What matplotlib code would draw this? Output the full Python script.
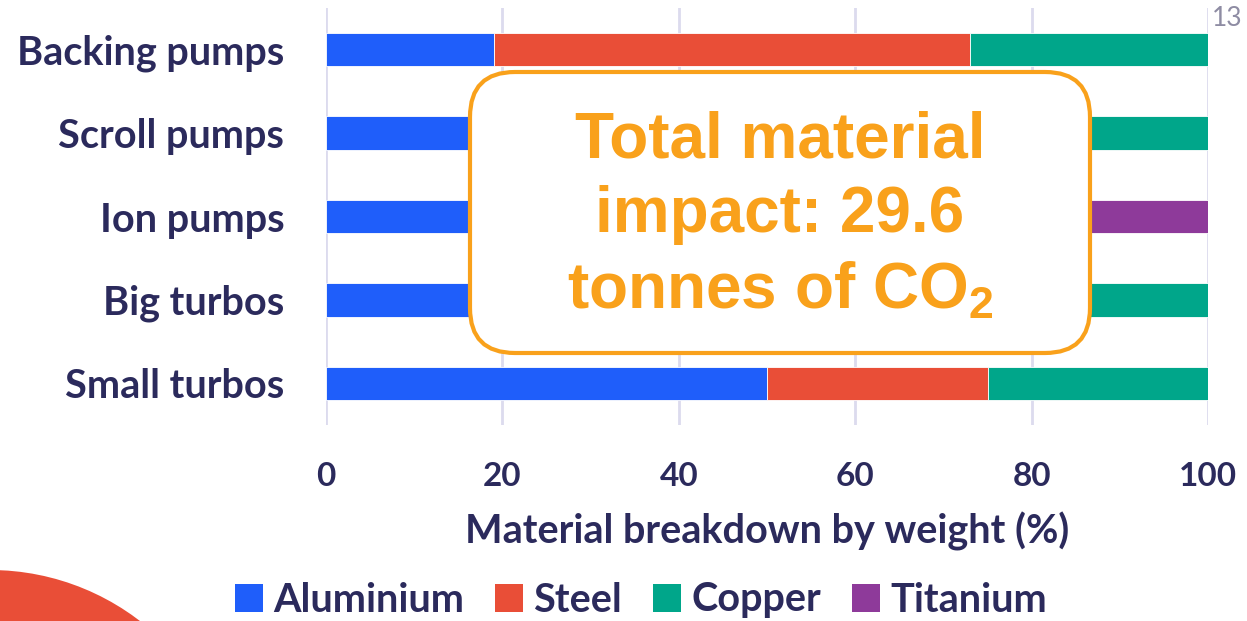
import numpy as np
import matplotlib
matplotlib.use('Agg')
import matplotlib.pyplot as plt
from matplotlib.patches import Patch, Ellipse, FancyBboxPatch
from matplotlib.transforms import IdentityTransform

plt.rcParams['mathtext.default'] = 'regular'

# material shares per pump type (% by weight), top row first
pumps = ["Backing pumps", "Scroll pumps", "Ion pumps", "Big turbos", "Small turbos"]
aluminium = [19, 45, 20, 55, 50]
steel = [54, 30, 60, 25, 25]
copper = [27, 25, 0, 20, 25]
titanium = [0, 0, 20, 0, 0]

materials = ["Aluminium", "Steel", "Copper", "Titanium"]
colours = ["#1F5EFA", "#E94E37", "#00A68A", "#8E3A9A"]
xticks = [0, 20, 40, 60, 80, 100]

navy = "#2B2A5C"
orange = "#F9A11B"
ui_font = "Lato"

W, H = 1247, 621
fig = plt.figure(figsize=(W / 100, H / 100), dpi=100)
ax = fig.add_axes([326 / W, 1 - 425 / H, 882 / W, 417 / H])

y = np.arange(len(pumps))
left = np.zeros(len(pumps))
for vals, col in zip([aluminium, steel, copper, titanium], colours):
    vals = np.array(vals, dtype=float)
    ax.barh(y, vals, left=left, height=0.4, color=col, edgecolor="white",
            linewidth=0.6, zorder=3)
    left += vals

ax.set_xlim(0, 100)
ax.set_ylim(len(pumps) - 0.5, -0.5)
ax.set_xticks(xticks)
ax.set_yticks(y)
ax.set_yticklabels(pumps)
ax.grid(axis="x", color="#DCDBEE", linewidth=2, zorder=0)
ax.tick_params(length=0)
ax.tick_params(axis="y", pad=30)
ax.tick_params(axis="x", pad=27)
for lab in ax.get_yticklabels():
    lab.set_fontfamily(ui_font); lab.set_fontweight("bold")
    lab.set_fontsize(28.5); lab.set_color(navy)
for lab in ax.get_xticklabels():
    lab.set_fontfamily(ui_font); lab.set_fontweight("bold")
    lab.set_fontsize(24); lab.set_color(navy)
for s in ax.spines.values():
    s.set_visible(False)

ax.set_xlabel("Material breakdown by weight (%)", fontfamily=ui_font,
              fontweight="bold", fontsize=28.5, color=navy, labelpad=15)

handles = [Patch(facecolor=c, edgecolor="none") for c in colours]
fig.legend(handles, materials, loc="center", bbox_to_anchor=(641 / W, 1 - 600 / H),
           ncol=4, frameon=False, handlelength=0.7, handleheight=0.7,
           handletextpad=0.25, columnspacing=0.8,
           prop={"family": ui_font, "weight": "bold", "size": 28.5},
           labelcolor=navy)

# callout box over the middle of the bars
box = FancyBboxPatch((470, H - 353), 620, 281,
                     boxstyle="round,pad=0,rounding_size=45",
                     transform=IdentityTransform(), facecolor="white",
                     edgecolor=orange, linewidth=3, zorder=5)
fig.patches.append(box)
fig.text(780 / W, 1 - 216 / H, "Total material\nimpact: 29.6\ntonnes of CO$_2$",
         ha="center", va="center", ma="center", color=orange,
         fontfamily="Liberation Sans", fontweight="bold", fontsize=46,
         linespacing=1.32, zorder=6)

# page number and corner decoration
fig.text(1212 / W, 1 - 19 / H, "13", ha="left", va="center", color="#8E8CA3",
         fontfamily=ui_font, fontsize=19)
fig.patches.append(Ellipse((-10 / W, -195 / H), 2 * 246 / W, 2 * 246 / H,
                           transform=fig.transFigure, facecolor="#E94E37",
                           edgecolor="none"))

fig.savefig("out.png", dpi=100)
